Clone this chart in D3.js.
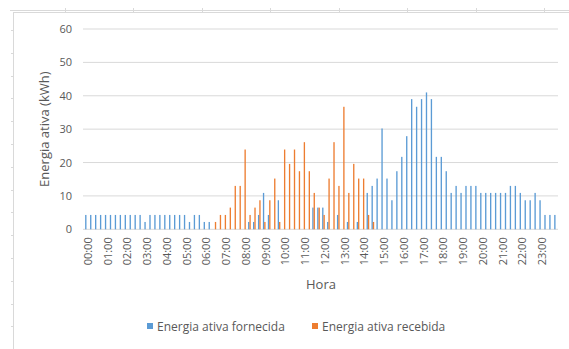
<!DOCTYPE html>
<html>
<head>
<meta charset="utf-8">
<script src="https://cdn.jsdelivr.net/npm/d3@7/dist/d3.min.js"></script>
<style>
  html, body { margin: 0; padding: 0; background: #fff; }
  svg { display: block; }
  text { font-family: "Open Sans", "Noto Sans", "DejaVu Sans", sans-serif; fill: #595959; }
</style>
</head>
<body>
<div id="chart"></div>
<script>
// Quarter-hour slots of the day (96 intervals); every 4th gets an hour label
const slots = d3.range(96);
const hourLabels = ["00:00","01:00","02:00","03:00","04:00","05:00","06:00","07:00",
  "08:00","09:00","10:00","11:00","12:00","13:00","14:00","15:00",
  "16:00","17:00","18:00","19:00","20:00","21:00","22:00","23:00"];

// Energia ativa fornecida (kWh) per 15-minute interval
const fornecida = [
  4.3, 4.3, 4.3, 4.3, 4.3, 4.3, 4.3, 4.3, 4.3, 4.3, 4.3, 4.3,
  2.2, 4.3, 4.3, 4.3, 4.3, 4.3, 4.3, 4.3, 4.3, 2.2, 4.3, 4.3,
  2.2, 2.2, 0, 0, 0, 0, 0, 0, 0, 2.2, 2.2, 4.3,
  10.9, 4.3, 0, 8.7, 0, 0, 0, 0, 0, 0, 6.5, 6.5,
  6.5, 2.2, 0, 4.3, 0, 2.2, 0, 2.2, 0, 10.9, 13.0, 15.2,
  30.2, 15.2, 8.7, 17.4, 21.7, 27.9, 39.0, 36.7, 39.0, 41.0, 39.0, 21.7,
  21.7, 17.4, 10.9, 13.0, 10.9, 13.0, 13.0, 13.0, 10.9, 10.9, 10.9, 10.9,
  10.9, 10.9, 13.0, 13.0, 10.9, 8.7, 8.7, 10.9, 8.7, 4.3, 4.3, 4.3
];

// Energia ativa recebida (kWh) per 15-minute interval
const recebida = [
  0, 0, 0, 0, 0, 0, 0, 0, 0, 0, 0, 0,
  0, 0, 0, 0, 0, 0, 0, 0, 0, 0, 0, 0,
  0, 0, 2.2, 4.3, 4.3, 6.5, 13.0, 13.0, 23.9, 4.3, 6.5, 8.7,
  2.2, 8.7, 15.2, 2.2, 23.9, 19.6, 23.9, 17.4, 26.1, 17.4, 10.9, 6.5,
  4.3, 15.2, 26.1, 13.0, 36.7, 10.9, 19.6, 15.2, 15.2, 4.3, 2.2, 0,
  0, 0, 0, 0, 0, 0, 0, 0, 0, 0, 0, 0,
  0, 0, 0, 0, 0, 0, 0, 0, 0, 0, 0, 0,
  0, 0, 0, 0, 0, 0, 0, 0, 0, 0, 0, 0
];

const seriesNames = ["Energia ativa fornecida", "Energia ativa recebida"];
const seriesColors = ["#5B9BD5", "#ED7D31"];
const yTicks = [0, 10, 20, 30, 40, 50, 60];

const W = 569, H = 349;
const svg = d3.select("#chart").append("svg")
  .attr("width", W).attr("height", H);

svg.append("rect").attr("width", W).attr("height", H).attr("fill", "#fff");

// Sheet frame around the chart object
const frame = svg.append("g").attr("stroke", "#d9d9d9").attr("fill", "none");
frame.append("line").attr("x1", 10).attr("x2", W).attr("y1", 10.5).attr("y2", 10.5);
frame.append("line").attr("x1", 13).attr("x2", W).attr("y1", 12.5).attr("y2", 12.5);
frame.append("line").attr("x1", 13.5).attr("x2", 13.5).attr("y1", 12).attr("y2", H);
d3.range(64.5, W, 68.5).forEach(px => {
  frame.append("line").attr("x1", Math.round(px) + 0.5).attr("x2", Math.round(px) + 0.5)
    .attr("y1", 8).attr("y2", 12);
});
d3.range(30, H, 22.8).forEach(py => {
  frame.append("line").attr("x1", 11).attr("x2", 13)
    .attr("y1", Math.round(py) + 0.5).attr("y2", Math.round(py) + 0.5);
});

// Scales
const x0 = d3.scaleBand().domain(slots).range([84, 558]).paddingInner(0).paddingOuter(0);
const x1 = d3.scaleBand().domain([0, 1]).range([0, x0.bandwidth()]).paddingOuter(0.85).paddingInner(0);
const y = d3.scaleLinear().domain([0, 60]).range([229.3, 29]);

// Gridlines
const grid = svg.append("g");
yTicks.forEach(t => {
  grid.append("line")
    .attr("x1", 83).attr("x2", 558)
    .attr("y1", y(t)).attr("y2", y(t))
    .attr("stroke", "#d9d9d9").attr("stroke-width", 1);
});

// Y axis labels
const yAxis = d3.axisLeft(y).tickValues(yTicks).tickSize(0).tickPadding(0);
const gy = svg.append("g").attr("transform", "translate(72,0)").call(yAxis);
gy.select(".domain").remove();
gy.selectAll("text").style("font-size", "11px").attr("fill", "#595959")
  .attr("font-family", "'Open Sans', sans-serif");

// Bars
const data = [fornecida, recebida];
const barsG = svg.append("g");
slots.forEach(s => {
  data.forEach((arr, k) => {
    const v = arr[s];
    if (!v) return;
    barsG.append("rect")
      .attr("x", x0(s) + x1(k))
      .attr("width", x1.bandwidth())
      .attr("y", y(v))
      .attr("height", y(0) - y(v))
      .attr("fill", seriesColors[k]);
  });
});

// X axis labels, one per hour, rotated
const xAxis = d3.axisBottom(x0)
  .tickValues(slots.filter(s => s % 4 === 0))
  .tickFormat(s => hourLabels[s / 4])
  .tickSize(0).tickPadding(0);
const gx = svg.append("g").attr("transform", `translate(0,${y(0)})`).call(xAxis);
gx.select(".domain").remove();
gx.selectAll("text")
  .style("font-size", "11px").attr("fill", "#595959")
  .attr("font-family", "'Open Sans', sans-serif")
  .attr("transform", "rotate(-90)")
  .attr("text-anchor", "end")
  .attr("x", -8).attr("y", 1.5).attr("dy", "0.35em");

// Axis titles
svg.append("text")
  .attr("transform", `translate(49,${(y(0) + y(60)) / 2}) rotate(-90)`)
  .attr("text-anchor", "middle")
  .style("font-size", "13px")
  .text("Energia ativa (kWh)");

svg.append("text")
  .attr("x", 321).attr("y", 289)
  .attr("text-anchor", "middle")
  .style("font-size", "13px")
  .text("Hora");

// Legend
const legendX = [147, 312];
seriesNames.forEach((name, k) => {
  const g = svg.append("g").attr("transform", `translate(${legendX[k]},323)`);
  g.append("rect").attr("width", 6).attr("height", 6).attr("fill", seriesColors[k]);
  g.append("text").attr("x", 10).attr("y", 7.5).style("font-size", "12px").text(name);
});
</script>
</body>
</html>
